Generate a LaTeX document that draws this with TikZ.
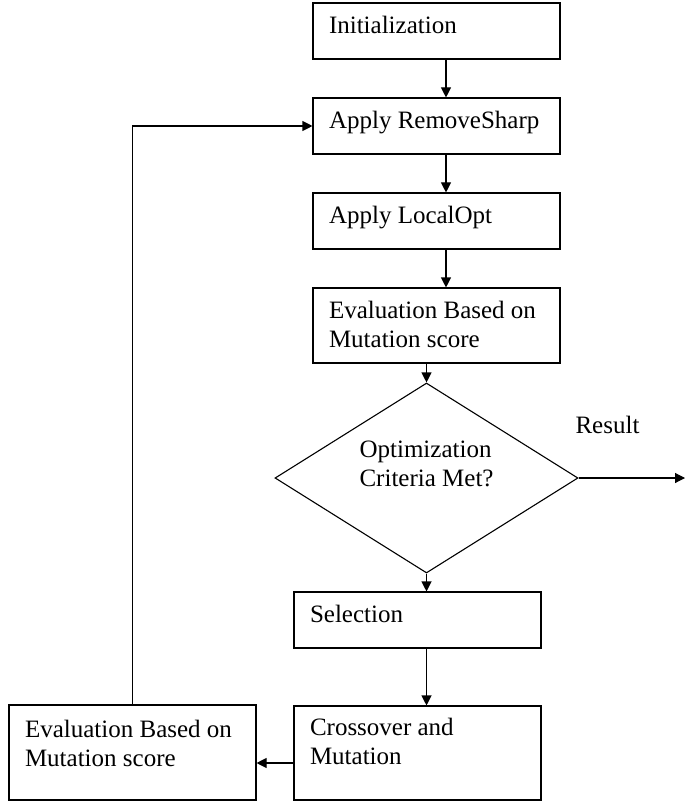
\documentclass[tikz,border=0pt]{standalone}
\usepackage{fontspec}
\setmainfont{Liberation Serif}
\usetikzlibrary{shapes.geometric,arrows.meta,calc}
\begin{document}
\begin{tikzpicture}[x=1pt,y=-1pt,line width=1.1pt,
  box/.style={draw, rectangle, minimum width=247pt, inner sep=0pt},
  lbl/.style={anchor=base west, inner sep=0pt, font=\fontsize{25}{29}\selectfont},
  arr/.style={-{Triangle[length=10pt,width=10pt]}}]
\useasboundingbox (0,0) rectangle (685,802);
% boxes
\node[box, minimum height=56pt] (init) at (436.5,31) {};
\node[box, minimum height=56pt] (rs) at (436.5,126) {};
\node[box, minimum height=56pt] (lo) at (436.5,221) {};
\node[box, minimum height=75pt] (ev) at (436.5,325.5) {};
\node[draw, diamond, minimum width=303pt, minimum height=190pt, inner sep=0pt] (dia) at (426.5,478) {};
\node[box, minimum height=56pt] (sel) at (417.5,620) {};
\node[box, minimum height=94pt] (cx) at (417.5,753) {};
\node[box, minimum height=95pt] (lev) at (132.5,752.5) {};
% texts
\node[lbl] (tinit) at ($(init.north west)+(16,31)$) {Initialization};
\node[lbl] (trs) at ($(rs.north west)+(16,31)$) {Apply RemoveSharp};
\node[lbl] (tlo) at ($(lo.north west)+(16,31)$) {Apply LocalOpt};
\node[lbl] (tev) at ($(ev.north west)+(16,31)$) {\begin{tabular}[t]{@{}l@{}}Evaluation Based on\\Mutation score\end{tabular}};
\node[lbl] (tdia) at (359,457) {\begin{tabular}[t]{@{}l@{}}Optimization\\Criteria Met?\end{tabular}};
\node[lbl] (tres) at (575,433) {Result};
\node[lbl] (tsel) at ($(sel.north west)+(16,31)$) {Selection};
\node[lbl] (tcx) at ($(cx.north west)+(16,30)$) {\begin{tabular}[t]{@{}l@{}}Crossover and\\Mutation\end{tabular}};
\node[lbl] (tlev) at ($(lev.north west)+(16,33)$) {\begin{tabular}[t]{@{}l@{}}Evaluation Based on\\Mutation score\end{tabular}};
% connectors
\coordinate (ax) at (446,0);
\coordinate (resend) at (685,478);
\draw[arr] (init.south -| ax) -- (rs.north -| ax);
\draw[arr] (rs.south -| ax) -- (lo.north -| ax);
\draw[arr] (lo.south -| ax) -- (ev.north -| ax);
\draw[arr] (ev.south -| dia.north) -- (dia.north);
\draw[arr] (dia.east) -- (resend);
\draw[arr] (dia.south) -- (sel.north -| dia.south);
\draw[arr] (sel.south -| dia.south) -- (cx.north -| dia.south);
\draw[arr] ([yshift=-10pt]cx.west) -- ([yshift=-10pt]cx.west -| lev.east);
\draw[arr] (lev.north) |- (rs.west);
\end{tikzpicture}
\end{document}
